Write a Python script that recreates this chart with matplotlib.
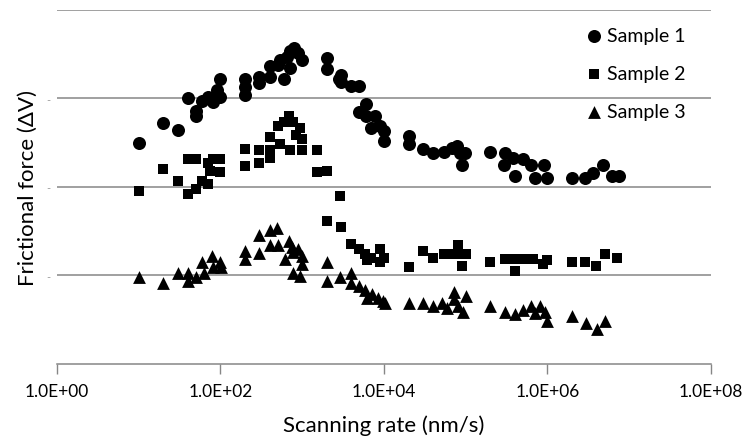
import numpy as np
import matplotlib
matplotlib.use("Agg")
import matplotlib.pyplot as plt
from matplotlib.ticker import FixedLocator, FuncFormatter

plt.rcParams['font.family'] = ['Lato', 'DejaVu Sans']

# Scanning rate (nm/s) and frictional force readings per sample
rate_s1 = [10, 20, 30, 40, 50, 50, 60, 70, 80, 90, 100, 100,
           200, 200, 200, 300, 300, 400, 400, 500, 540, 600, 650, 700, 700,
           800, 900, 1000, 2000, 2000, 2800, 3000, 3000, 4000, 5000, 6000,
           5000, 6000, 7800, 7000, 9000, 10000, 10000, 20000, 20000, 30000,
           40000, 54000, 68000, 78000, 85000, 98000, 89000,
           2e5, 3e5, 2.9e5, 3.8e5, 4e5, 5e5, 6.2e5, 7e5, 9e5, 1e6,
           2e6, 2.9e6, 3.6e6, 4.8e6, 6.2e6, 7.4e6]
force_s1 = [2.49, 2.72, 2.64, 3.00, 2.80, 2.86, 2.97, 3.01, 2.96, 3.09, 3.01, 3.22,
            3.22, 3.13, 3.04, 3.24, 3.17, 3.36, 3.24, 3.38, 3.43, 3.22, 3.47, 3.34, 3.53,
            3.57, 3.51, 3.43, 3.45, 3.33, 3.22, 3.26, 3.18, 3.14, 3.14, 2.94,
            2.84, 2.80, 2.80, 2.67, 2.69, 2.63, 2.52, 2.57, 2.48, 2.43,
            2.38, 2.39, 2.44, 2.46, 2.38, 2.38, 2.25,
            2.39, 2.38, 2.25, 2.33, 2.12, 2.31, 2.25, 2.10, 2.25, 2.10,
            2.10, 2.10, 2.16, 2.25, 2.12, 2.12]

rate_s2 = [10, 20, 30, 40, 50, 40, 50, 60, 70, 70, 80, 100, 100, 75,
           200, 200, 300, 300, 400, 400, 400, 500, 540, 680, 600, 780, 700,
           930, 980, 1000, 850, 1500, 1500, 2000, 2900, 2000, 3000, 3900,
           4900, 5900, 6200, 7000, 8900, 8900, 10000, 20000, 30000, 40000,
           54000, 81000, 89000, 89000, 1e5, 70000,
           2e5, 3e5, 3.8e5, 4e5, 5e5, 6.6e5, 8.9e5, 1e6,
           2e6, 2.9e6, 3.9e6, 5e6, 7.1e6]
force_s2 = [1.95, 2.20, 2.07, 2.31, 2.31, 1.92, 1.98, 2.07, 2.03, 2.27, 2.31, 2.31, 2.17, 2.18,
            2.43, 2.24, 2.42, 2.27, 2.42, 2.33, 2.56, 2.69, 2.48, 2.80, 2.73, 2.73, 2.42,
            2.67, 2.54, 2.42, 2.58, 2.42, 2.17, 2.18, 1.90, 1.62, 1.55, 1.36,
            1.30, 1.24, 1.17, 1.20, 1.30, 1.15, 1.20, 1.09, 1.28, 1.20,
            1.24, 1.34, 1.24, 1.11, 1.24, 1.24,
            1.15, 1.19, 1.19, 1.05, 1.19, 1.19, 1.13, 1.17,
            1.15, 1.15, 1.11, 1.24, 1.20]

rate_s3 = [10, 20, 30, 40, 40, 50, 59, 62, 78, 81, 98, 102,
           200, 200, 300, 300, 400, 400, 490, 510, 620, 680, 740, 780, 890,
           980, 1000, 780, 930, 2000, 2000, 2900, 3900, 4000, 4900, 5900,
           6200, 7100, 8500, 9800, 10200, 20000, 30000, 40000, 51000, 59000,
           71000, 71000, 81000, 93000, 1e5,
           2e5, 3e5, 4e5, 5e5, 6.2e5, 7.1e5, 8.1e5, 9.3e5, 1e6,
           2e6, 3e6, 4e6, 5e6]
force_s3 = [0.98, 0.91, 1.03, 1.03, 0.94, 0.98, 1.15, 1.03, 1.22, 1.09, 1.15, 1.09,
            1.28, 1.19, 1.46, 1.25, 1.51, 1.34, 1.53, 1.34, 1.19, 1.39, 1.32, 1.26, 1.30,
            1.22, 1.13, 1.03, 0.99, 1.15, 0.94, 0.98, 1.03, 0.92, 0.88, 0.84,
            0.75, 0.79, 0.75, 0.71, 0.69, 0.69, 0.69, 0.65, 0.69, 0.63,
            0.81, 0.73, 0.65, 0.59, 0.77,
            0.65, 0.59, 0.56, 0.61, 0.65, 0.58, 0.65, 0.59, 0.48,
            0.54, 0.46, 0.39, 0.48]

decades = [1e0, 1e2, 1e4, 1e6, 1e8]
grid_levels = [1, 2, 3, 4]

fig = plt.figure(figsize=(7.48, 4.39), dpi=100)
ax = fig.add_axes([0.0762, 0.1686, 0.8743, 0.8070])

ax.scatter(rate_s1, force_s1, marker='o', s=88, color='black', linewidths=0,
           label='Sample 1', zorder=3)
ax.scatter(rate_s2, force_s2, marker='s', s=62, color='black', linewidths=0,
           label='Sample 2', zorder=3)
ax.scatter(rate_s3, force_s3, marker='^', s=85, color='black', linewidths=0,
           label='Sample 3', zorder=3)

ax.set_xscale('log')
ax.set_xlim(1, 1e8)
ax.set_ylim(0, 4)
ax.xaxis.set_major_locator(FixedLocator(decades))
ax.xaxis.set_minor_locator(FixedLocator([]))
ax.xaxis.set_major_formatter(FuncFormatter(lambda v, pos: '{:.1E}'.format(v)))
ax.set_yticks(grid_levels)
ax.set_yticklabels(['-', '-', '-', ''], color='#9a9a9a', fontsize=8)
ax.tick_params(axis='y', length=0, pad=5)
ax.tick_params(axis='x', direction='out', length=7, width=1, color='#868686',
               labelsize=12.5, pad=7)
ax.yaxis.grid(True, color='#868686', linewidth=1.1)
ax.set_axisbelow(True)

for side in ('top', 'right', 'left'):
    ax.spines[side].set_visible(False)
ax.spines['bottom'].set_color('#868686')
ax.spines['bottom'].set_linewidth(1.1)

ax.set_xlabel('Scanning rate (nm/s)', fontsize=16, labelpad=11)
ax.set_ylabel('Frictional force (\u0394V)', fontsize=16, labelpad=6)

leg = ax.legend(loc='upper right', bbox_to_anchor=(0.973, 0.972), frameon=False,
                fontsize=14, handletextpad=0.15, labelspacing=1.08,
                handlelength=1.0, borderaxespad=0)

fig.savefig('out.png', dpi=100, facecolor='white')
